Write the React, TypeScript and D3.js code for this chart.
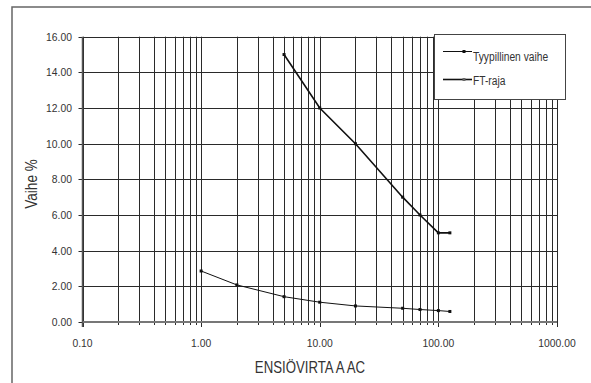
import React from "react";
import * as d3 from "d3";

const xTickValues = [0.1, 1, 10, 100, 1000];
const yTickValues = [0, 2, 4, 6, 8, 10, 12, 14, 16];

const typicalX = [1, 2, 5, 10, 20, 50, 70, 100, 125];
const typicalY = [2.86, 2.08, 1.42, 1.11, 0.9, 0.77, 0.7, 0.64, 0.59];

const ftX = [5, 10, 20, 50, 70, 100, 125];
const ftY = [15, 12, 10, 7, 6, 5, 5];

const seriesNames = ["Tyypillinen vaihe", "FT-raja"];
const xTitle = "ENSIÖVIRTA A AC";
const yTitle = "Vaihe %";

const W = 591;
const H = 383;
const FONT = "'Liberation Sans', Arial, sans-serif";

function CText(props: {
  x: number;
  y: number;
  sx: number;
  size: number;
  anchor?: string;
  rotate?: number;
  children: React.ReactNode;
}) {
  const { x, y, sx, size, anchor, rotate, children } = props;
  const tr = `translate(${x},${y})${rotate ? ` rotate(${rotate})` : ""} scale(${sx},1)`;
  return (
    <text transform={tr} textAnchor={anchor || "start"} fontSize={size} fill="#333" fontFamily={FONT}>
      {children}
    </text>
  );
}

export default function App() {
  const x = d3.scaleLog().domain([0.1, 1000]).range([82.5, 557]);
  const y = d3.scaleLinear().domain([0, 16]).range([322, 36.7]);

  const gridX: number[] = [];
  for (let e = -1; e < 3; e++) {
    for (let m = 1; m <= 9; m++) gridX.push(m * Math.pow(10, e));
  }
  gridX.push(1000);

  const line = d3
    .line<[number, number]>()
    .x((d) => x(d[0]))
    .y((d) => y(d[1]));

  const typ: [number, number][] = typicalX.map((v, i) => [v, typicalY[i]]);
  const ft: [number, number][] = ftX.map((v, i) => [v, ftY[i]]);

  const gridColor = "#2a2a2a";

  return (
    <svg
      width={W}
      height={H}
      style={{ position: "absolute", left: 0, top: 0, background: "#fff" }}
      fontFamily={FONT}
    >
      <rect x={0} y={0} width={W} height={H} fill="#fff" />
      <rect x={12} y={7} width={700} height={500} fill="none" stroke="#666" strokeWidth={1.5} />

      {gridX.map((v, i) => {
        const px = Math.round(x(v)) + 0.5;
        const major = xTickValues.includes(v);
        return (
          <line
            key={"gx" + i}
            x1={px}
            x2={px}
            y1={y(16)}
            y2={y(0) + (major ? 5 : 3)}
            stroke={gridColor}
            strokeWidth={1}
          />
        );
      })}
      {yTickValues.map((v, i) => {
        const py = Math.round(y(v)) + 0.5;
        return (
          <line
            key={"gy" + i}
            x1={x(0.1) - 4}
            x2={x(1000)}
            y1={py}
            y2={py}
            stroke={gridColor}
            strokeWidth={1}
          />
        );
      })}
      <line x1={x(0.1)} x2={x(1000)} y1={y(0)} y2={y(0)} stroke="#777" strokeWidth={2} />
      <line x1={x(0.1)} x2={x(0.1)} y1={y(16)} y2={y(0) + 5} stroke="#555" strokeWidth={1.5} />

      {yTickValues.map((v, i) => (
        <CText key={"yl" + i} x={72} y={y(v) + 4} sx={0.9} size={11.5} anchor="end">
          {v.toFixed(2)}
        </CText>
      ))}
      {xTickValues.map((v, i) => (
        <CText key={"xl" + i} x={x(v)} y={346.5} sx={0.9} size={11.5} anchor="middle">
          {v.toFixed(2)}
        </CText>
      ))}

      <CText x={310} y={373} sx={0.8} size={16.5} anchor="middle">
        {xTitle}
      </CText>
      <CText x={36.5} y={184} sx={0.85} size={16} anchor="middle" rotate={-90}>
        {yTitle}
      </CText>

      <path d={line(typ) || ""} fill="none" stroke="#111" strokeWidth={1} />
      {typ.map((d, i) => (
        <rect key={"tm" + i} x={x(d[0]) - 1.5} y={y(d[1]) - 1.5} width={3} height={3} fill="#111" />
      ))}
      <path d={line(ft) || ""} fill="none" stroke="#111" strokeWidth={1.6} />
      {ft.map((d, i) => (
        <rect key={"fm" + i} x={x(d[0]) - 1.5} y={y(d[1]) - 1.5} width={3} height={3} fill="#111" />
      ))}

      <rect x={434.5} y={34.5} width={131} height={65} fill="#fff" stroke="#444" strokeWidth={1} />
      <line x1={443} x2={472} y1={51.5} y2={51.5} stroke="#111" strokeWidth={1} />
      <rect x={462.5} y={50} width={3} height={3} fill="#111" />
      <CText x={473} y={61} sx={0.76} size={13.5}>
        {seriesNames[0]}
      </CText>
      <line x1={443} x2={472} y1={79.5} y2={79.5} stroke="#111" strokeWidth={1.6} />
      <rect x={462.5} y={78} width={3} height={3} fill="#666" />
      <CText x={473} y={85} sx={0.76} size={13.5}>
        {seriesNames[1]}
      </CText>
    </svg>
  );
}
